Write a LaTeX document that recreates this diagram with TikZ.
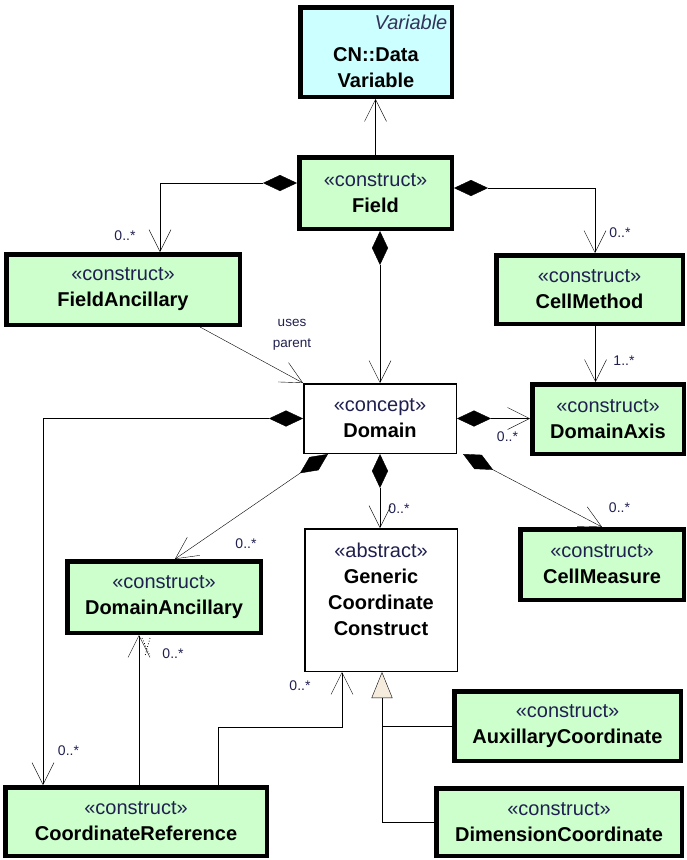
\documentclass[tikz,border=0pt]{standalone}
\usepackage{fontspec}
\setmainfont{Liberation Sans}
\usetikzlibrary{arrows.meta,backgrounds,calc}
\definecolor{gfill}{RGB}{204,255,204}
\definecolor{cfill}{RGB}{204,255,255}
\definecolor{navy}{RGB}{32,32,80}
\definecolor{trifill}{RGB}{245,236,222}
\begin{document}
\begin{tikzpicture}[x=1pt,y=-1pt,line width=1.25pt,
  txt/.style={align=center,inner sep=0pt,font=\fontsize{20}{26}\selectfont},
  cbox/.style={txt,draw,rectangle,line width=4.5pt,fill=gfill},
  wbox/.style={txt,draw,rectangle,line width=1.5pt,fill=white},
  mult/.style={inner sep=0pt,font=\fontsize{14}{16}\selectfont,text=navy},
  assoc/.style={-{Straight Barb[length=22pt,width=22pt]}},
  comp/.style={{Diamond[length=34pt,width=16pt]}-{Straight Barb[length=22pt,width=22pt]}},
  gen/.style={-{Triangle[length=26pt,width=21pt,fill=trifill]}}]
\useasboundingbox (0,0) rectangle (687,860);

% boxes
\node[cbox,fill=cfill,minimum width=151.5pt,minimum height=89.5pt] (var) at (376,52) {};
\node[txt] (vartxt) at (376,67.5) {\textbf{CN::Data}\\\textbf{Variable}};
\node[txt,anchor=east,text=navy!80!gray] (varst) at (448,22) {\itshape Variable};

\node[cbox,minimum width=152.5pt,minimum height=71.5pt] (field) at (375.5,193) {{\color{navy}«construct»}\\\textbf{Field}};
\node[cbox,minimum width=233.5pt,minimum height=70.5pt] (fanc) at (123,289.5) {{\color{navy}«construct»}\\\textbf{FieldAncillary}};
\node[cbox,minimum width=186.5pt,minimum height=68.5pt] (cmeth) at (589.5,289.5) {{\color{navy}«construct»}\\\textbf{CellMethod}};
\node[wbox,minimum width=152.5pt,minimum height=69.5pt] (domain) at (380,418.5) {{\color{navy}«concept»}\\\textbf{Domain}};
\node[cbox,minimum width=151.5pt,minimum height=69.5pt] (daxis) at (608,419) {{\color{navy}«construct»}\\\textbf{DomainAxis}};
\node[wbox,minimum width=152.5pt,minimum height=142.5pt] (generic) at (381,600) {};
\node[txt] (gentxt) at (381,589.5) {{\color{navy}«abstract»}\\\textbf{Generic}\\\textbf{Coordinate}\\\textbf{Construct}};
\node[cbox,minimum width=163.5pt,minimum height=70.5pt] (cmeas) at (602,564.5) {{\color{navy}«construct»}\\\textbf{CellMeasure}};
\node[cbox,minimum width=193.5pt,minimum height=71.5pt] (danc) at (164,597) {{\color{navy}«construct»}\\\textbf{DomainAncillary}};
\node[cbox,minimum width=261.5pt,minimum height=68.5pt] (cref) at (136,821.5) {{\color{navy}«construct»}\\\textbf{CoordinateReference}};
\node[cbox,minimum width=226.5pt,minimum height=69.5pt] (aux) at (567.5,726) {{\color{navy}«construct»}\\\textbf{AuxillaryCoordinate}};
\node[cbox,minimum width=245.5pt,minimum height=67.5pt] (dim) at (559,822) {{\color{navy}«construct»}\\\textbf{DimensionCoordinate}};

% labels
\node[mult] (m1) at (125,236) {0..*};
\node[mult] (m2) at (620,233) {0..*};
\node[mult] (m3) at (624,361) {1..*};
\node[mult] (m4) at (507.5,437) {0..*};
\node[mult] (m5) at (246,544) {0..*};
\node[mult] (m6) at (399,509) {0..*};
\node[mult] (m7) at (619.5,508) {0..*};
\node[mult] (m8) at (173,654) {0..*};
\node[mult] (m9) at (300,686) {0..*};
\node[mult] (m10) at (68.5,751) {0..*};
\node[mult,align=center,font=\fontsize{13.5}{21}\selectfont] (up) at (292,335) {uses\\parent};

\coordinate (gj) at ([xshift=1pt]generic.south);
\coordinate (hx) at ([xshift=3pt]cref.north |- danc.south);

\begin{scope}[on background layer]
\draw[assoc] (field.north) -- (field.north |- var.south);
\draw[comp] ([yshift=10pt]field.west) -| ([xshift=37pt]fanc.north);
\draw[comp] ([yshift=5pt]field.east) -| ([xshift=5.5pt]cmeth.north);
\draw[comp] (field.south -| domain.north) -- (domain.north);
\draw[assoc] ([xshift=77pt]fanc.south) -- (domain.north west);
\draw[assoc] ([xshift=6pt]cmeth.south) -- ([xshift=6pt]cmeth.south |- daxis.north);
\draw[comp] (domain.east) -- (daxis.west |- domain.east);
\draw[comp] (domain.west) -| ([xshift=-93pt]cref.north);
\draw[comp] ([xshift=-52pt]domain.south) -- ([xshift=11pt]danc.north);
\draw[comp] (domain.south) -- (domain.south |- generic.north);
\draw[comp] ([xshift=83pt]domain.south) -- (cmeas.north);
\draw[assoc] ([xshift=3pt]cref.north) -- (hx);
\draw[dotted,line width=0.8pt] (hx) ++(3,3) -- ++(8,18);
\draw[dotted,line width=0.8pt] (hx) ++(11,3) -- ++(-5,18);
\draw[assoc] ([xshift=82pt]cref.north) |- ($(generic.south)+(-39,55)$) -- ([xshift=-39pt]generic.south);
\draw[gen] (dim.west) -| (gj);
\draw (aux.west) -- (aux.west -| gj);
\end{scope}
\end{tikzpicture}
\end{document}
